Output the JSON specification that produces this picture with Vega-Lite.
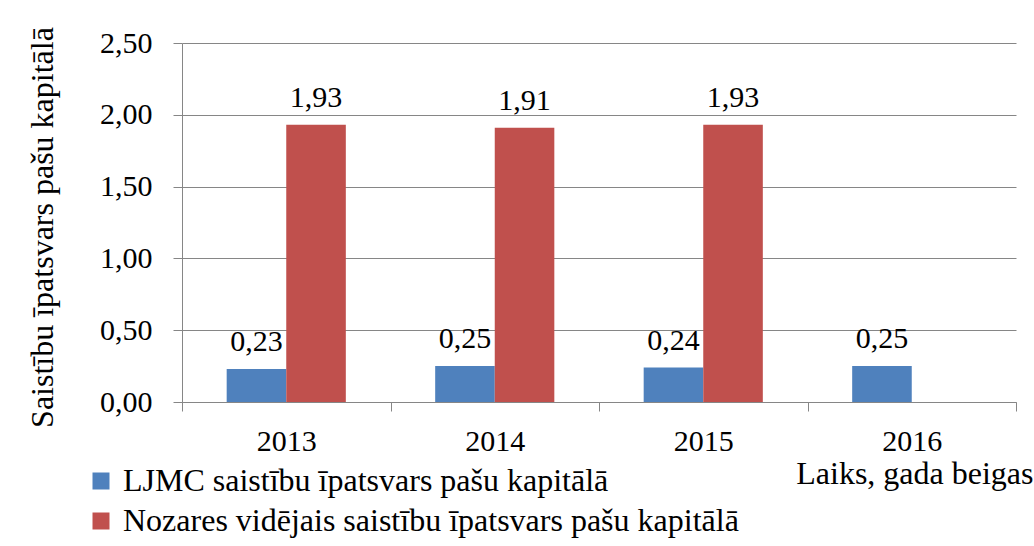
{
  "$schema": "https://vega.github.io/schema/vega-lite/v6.json",
  "autosize": {"type": "none"},
  "width": 834,
  "height": 359,
  "padding": {"left": 182, "top": 43, "right": 18, "bottom": 144},
  "background": "white",
  "config": {
    "view": {"stroke": null},
    "font": "Liberation Serif",
    "locale": {"number": {"decimal": ",", "thousands": " ", "grouping": [3], "currency": ["", " €"]}}
  },
  "data": {
    "values": [
      {"year": "2013", "series": "LJMC saistību īpatsvars pašu kapitālā", "value": 0.23},
      {"year": "2013", "series": "Nozares vidējais saistību īpatsvars pašu kapitālā", "value": 1.93},
      {"year": "2014", "series": "LJMC saistību īpatsvars pašu kapitālā", "value": 0.25},
      {"year": "2014", "series": "Nozares vidējais saistību īpatsvars pašu kapitālā", "value": 1.91},
      {"year": "2015", "series": "LJMC saistību īpatsvars pašu kapitālā", "value": 0.24},
      {"year": "2015", "series": "Nozares vidējais saistību īpatsvars pašu kapitālā", "value": 1.93},
      {"year": "2016", "series": "LJMC saistību īpatsvars pašu kapitālā", "value": 0.25}
    ]
  },
  "encoding": {
    "x": {
      "field": "year",
      "type": "nominal",
      "scale": {"paddingInner": 0, "paddingOuter": 0},
      "axis": {
        "title": "Laiks, gada beigas",
        "titleFont": "Liberation Serif",
        "titleFontSize": 32,
        "titleFontWeight": "normal",
        "titleColor": "black",
        "titleAnchor": "end",
        "titleAlign": "right",
        "titleBaseline": "alphabetic",
        "titleX": 851,
        "titleY": 81,
        "labelAngle": 0,
        "labelFont": "Liberation Serif",
        "labelFontSize": 30,
        "labelColor": "black",
        "labelPadding": 15,
        "tickBand": "extent",
        "tickSize": 9,
        "tickColor": "#868686",
        "domainColor": "#868686",
        "grid": false
      }
    },
    "xOffset": {
      "field": "series",
      "type": "nominal",
      "scale": {"paddingOuter": 0.75, "paddingInner": 0}
    },
    "y": {
      "field": "value",
      "type": "quantitative",
      "scale": {"domain": [0, 2.5], "nice": false},
      "axis": {
        "title": "Saistību īpatsvars pašu kapitālā",
        "titleFont": "Liberation Serif",
        "titleFontSize": 32,
        "titleFontWeight": "normal",
        "titleColor": "black",
        "titlePadding": 40,
        "titleY": 184,
        "values": [0, 0.5, 1, 1.5, 2, 2.5],
        "format": ".2f",
        "labelFont": "Liberation Serif",
        "labelFontSize": 30,
        "labelColor": "black",
        "labelPadding": 21,
        "tickSize": 9,
        "tickColor": "#868686",
        "domainColor": "#868686",
        "gridColor": "#868686",
        "grid": true
      }
    }
  },
  "layer": [
    {
      "mark": {"type": "bar"},
      "encoding": {
        "color": {
          "field": "series",
          "type": "nominal",
          "scale": {
            "domain": ["LJMC saistību īpatsvars pašu kapitālā", "Nozares vidējais saistību īpatsvars pašu kapitālā"],
            "range": ["#4F81BD", "#C0504D"]
          },
          "legend": {
            "title": null,
            "orient": "none",
            "legendX": -97,
            "legendY": 422,
            "direction": "vertical",
            "symbolType": "square",
            "symbolSize": 289,
            "symbolStrokeWidth": 0,
            "labelFont": "Liberation Serif",
            "labelFontSize": 32,
            "labelColor": "black",
            "labelLimit": 900,
            "labelOffset": 6,
            "rowPadding": 8
          }
        }
      }
    },
    {
      "mark": {"type": "text", "baseline": "alphabetic", "dy": -18, "font": "Liberation Serif", "fontSize": 30, "color": "black"},
      "encoding": {
        "text": {"field": "value", "type": "quantitative", "format": ".2f"}
      }
    }
  ]
}
